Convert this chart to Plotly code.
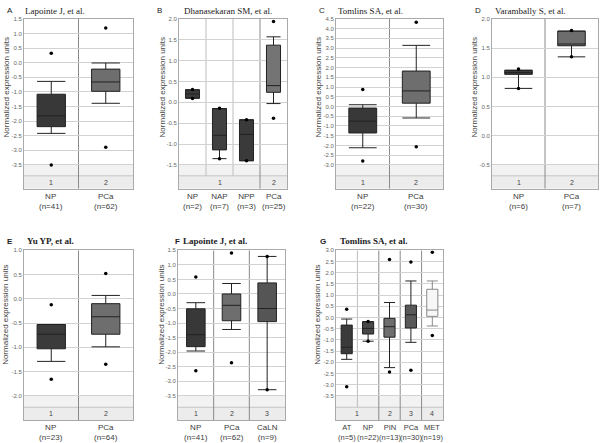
import plotly.graph_objects as go

W, H = 602, 443

# ---------------- data ----------------
A_groups = ["NP", "PCa"]; A_n = [41, 62]; A_set = [1, 2]
A_lower = [-2.42, -1.39]; A_q1 = [-2.19, -0.98]; A_med = [-1.82, -0.66]
A_q3 = [-1.08, -0.22]; A_upper = [-0.64, -0.01]
A_out = [[0.32, -3.50], [1.19, -2.90]]

B_groups = ["NP", "NAP", "NPP", "PCa"]; B_n = [2, 7, 3, 25]; B_set = [1, 1, 1, 2]
B_lower = [0.10, -1.35, -1.40, -0.03]; B_q1 = [0.10, -1.14, -1.40, 0.24]
B_med = [0.20, -0.79, -0.77, 0.40]; B_q3 = [0.30, -0.15, -0.42, 1.37]
B_upper = [0.30, -0.15, -0.42, 1.57]
B_out = [[0.31, 0.09], [-0.14, -1.35], [-0.42, -1.40], [1.94, -0.38]]

C_groups = ["NP", "PCa"]; C_n = [22, 30]; C_set = [1, 2]
C_lower = [-2.12, -0.59]; C_q1 = [-1.36, 0.17]; C_med = [-0.75, 0.80]
C_q3 = [-0.08, 1.82]; C_upper = [0.09, 3.14]
C_out = [[0.87, -2.80], [4.33, -2.07]]

D_groups = ["NP", "PCa"]; D_n = [6, 7]; D_set = [1, 2]
D_lower = [0.81, 1.35]; D_q1 = [1.05, 1.54]; D_med = [1.08, 1.57]
D_q3 = [1.12, 1.79]; D_upper = [1.12, 1.79]
D_out = [[1.14, 0.81], [1.80, 1.35]]

E_groups = ["NP", "PCa"]; E_n = [23, 64]; E_set = [1, 2]
E_lower = [-1.29, -0.99]; E_q1 = [-1.03, -0.73]; E_med = [-0.73, -0.37]
E_q3 = [-0.53, -0.10]; E_upper = [-0.53, 0.07]
E_out = [[-0.12, -1.66], [0.52, -1.35]]

F_groups = ["NP", "PCa", "CaLN"]; F_n = [41, 62, 9]; F_set = [1, 2, 3]
F_lower = [-1.96, -1.22, -3.29]; F_q1 = [-1.81, -0.92, -0.95]
F_med = [-1.40, -0.39, -0.50]; F_q3 = [-0.51, 0.00, 0.38]
F_upper = [-0.30, 0.36, 1.29]
F_out = [[0.58, -2.64], [1.41, -2.36], [1.29, -3.29]]

G_groups = ["AT", "NP", "PIN", "PCa", "MET"]; G_n = [5, 22, 13, 30, 19]; G_set = [1, 1, 2, 3, 4]
G_lower = [-1.87, -1.06, -2.24, -1.11, -0.38]; G_q1 = [-1.62, -0.74, -0.88, -0.47, 0.05]
G_med = [-1.33, -0.49, -0.41, 0.12, 0.33]; G_q3 = [-0.34, -0.19, -0.04, 0.55, 1.26]
G_upper = [-0.07, -0.19, 0.67, 1.63, 1.63]
G_out = [[0.37, -3.10], [-0.18, -1.06], [2.59, -2.44], [2.48, -2.36], [2.91, -0.81]]

letters = ["A", "B", "C", "D", "E", "F", "G"]
titles = ["Lapointe J, et al.", "Dhanasekaran SM, et al.", "Tomlins SA, et al.",
          "Varambally S, et al.", "Yu YP, et al.", "Lapointe J, et al.", "Tomlins SA, et al."]
y_ranges = [(-3.5, 1.5), (-1.5, 2.0), (-3.0, 4.5), (-0.5, 2.0), (-2.0, 1.0), (-3.5, 1.5), (-3.5, 3.0)]

# ---------------- styles / layout (pixels) ----------------
colors = [["#383838", "#6e6e6e"], ["#3a3a3a", "#404040", "#3a3a3a", "#747474"],
          ["#383838", "#6e6e6e"], ["#3c3c3c", "#6d6d6d"], ["#3b3b3b", "#6e6e6e"],
          ["#383838", "#6e6e6e", "#555555"],
          ["#3a3a3a", "#474747", "#6e6e6e", "#595959", "#f7f7f7"]]
xpix = [(24, 133), (179, 287), (336, 443), (492, 598), (24, 133), (178, 285), (336, 443)]
rows = {0: (16, 163, 174, 187), 1: (249, 395.5, 407, 420)}
letter_x = [5, 155, 317, 473, 5, 173, 318]
title_x = [23, 182, 336, 493, 25, 181, 338]
ylab_x = [6, 162, 318, 474, 6, 162, 318]
bold = [False, False, False, False, True, True, True]
label_size = [8, 8, 8, 8, 8, 8, 7.5]

data = [
    (A_groups, A_n, A_set, A_lower, A_q1, A_med, A_q3, A_upper, A_out),
    (B_groups, B_n, B_set, B_lower, B_q1, B_med, B_q3, B_upper, B_out),
    (C_groups, C_n, C_set, C_lower, C_q1, C_med, C_q3, C_upper, C_out),
    (D_groups, D_n, D_set, D_lower, D_q1, D_med, D_q3, D_upper, D_out),
    (E_groups, E_n, E_set, E_lower, E_q1, E_med, E_q3, E_upper, E_out),
    (F_groups, F_n, F_set, F_lower, F_q1, F_med, F_q3, F_upper, F_out),
    (G_groups, G_n, G_set, G_lower, G_q1, G_med, G_q3, G_upper, G_out),
]

fig = go.Figure()
shapes = []
annots = []
layout = {}

def py(p):
    return 1 - p / H

def px(p):
    return p / W

for k, (groups, ns, sets, lo, q1, med, q3, up, outs) in enumerate(data):
    r = 0 if k < 4 else 1
    t_top, t_bot, b_bot, r_bot = rows[r]
    ymin, ymax = y_ranges[k]
    ppu = (t_bot - t_top) / (ymax - ymin)
    band_val = ymin - (b_bot - t_bot) / ppu
    rng_bot = ymin - (r_bot - t_bot) / ppu
    sfx = "" if k == 0 else str(k + 1)
    xa, ya = "x" + sfx, "y" + sfx
    nb = len(groups)

    ticks = []
    v = ymin
    while v <= ymax + 1e-9:
        ticks.append(round(v, 2))
        v += 0.5

    layout["xaxis" + sfx] = dict(domain=[px(xpix[k][0]), px(xpix[k][1])], anchor=ya,
                                 range=[-0.5, nb - 0.5], showticklabels=False, showgrid=False,
                                 zeroline=False, showline=True, mirror=True, linecolor="#aaaaaa",
                                 linewidth=1, ticks="", fixedrange=True)
    layout["yaxis" + sfx] = dict(domain=[py(r_bot), py(t_top)], anchor=xa,
                                 range=[rng_bot, ymax], tickvals=ticks,
                                 ticktext=["%.1f" % t for t in ticks],
                                 tickfont=dict(size=6, color="#666666", family="Arial"),
                                 showgrid=True, gridcolor="#d2d2d2", gridwidth=1,
                                 zeroline=False, showline=True, mirror=True, linecolor="#aaaaaa",
                                 linewidth=1, ticks="", fixedrange=True)

    # band and number row
    shapes.append(dict(type="rect", xref=xa, yref=ya, x0=-0.5, x1=nb - 0.5, y0=band_val, y1=ymin,
                       fillcolor="#f2f2f2", line=dict(width=0), layer="below"))
    shapes.append(dict(type="rect", xref=xa, yref=ya, x0=-0.5, x1=nb - 0.5, y0=rng_bot, y1=band_val,
                       fillcolor="#ececec", line=dict(width=0), layer="below"))
    shapes.append(dict(type="line", xref=xa, yref=ya, x0=-0.5, x1=nb - 0.5, y0=band_val, y1=band_val,
                       line=dict(color="#c4c4c4", width=1), layer="below"))
    # dividers
    for i in range(nb - 1):
        if sets[i] != sets[i + 1]:
            shapes.append(dict(type="line", xref=xa, yref=ya, x0=i + 0.5, x1=i + 0.5, y0=rng_bot,
                               y1=ymax, line=dict(color="#8a8a8a", width=1), layer="below"))
        else:
            shapes.append(dict(type="line", xref=xa, yref=ya, x0=i + 0.5, x1=i + 0.5, y0=band_val,
                               y1=ymax, line=dict(color="#bdbdbd", width=1), layer="below"))
    # set numbers
    for s in sorted(set(sets)):
        idx = [i for i in range(nb) if sets[i] == s]
        annots.append(dict(xref=xa, yref=ya, x=sum(idx) / len(idx), y=(rng_bot + band_val) / 2,
                           text=str(s), showarrow=False,
                           font=dict(size=7, color="#444444", family="Arial")))
    # category labels
    for i in range(nb):
        annots.append(dict(xref=xa, yref="paper", x=i, y=py(r_bot + 1), yanchor="top",
                           text="%s<br>(n=%d)" % (groups[i], ns[i]), showarrow=False,
                           font=dict(size=label_size[k], color="#3c3c3c", family="Arial")))
    # boxes
    for i in range(nb):
        lc = "#888888" if colors[k][i] == "#f7f7f7" else "#222222"
        fig.add_trace(go.Box(x=[i], q1=[q1[i]], median=[med[i]], q3=[q3[i]],
                             lowerfence=[lo[i]], upperfence=[up[i]], width=0.52,
                             whiskerwidth=1, fillcolor=colors[k][i],
                             line=dict(color=lc, width=1), boxpoints=False,
                             xaxis=xa, yaxis=ya, showlegend=False, hoverinfo="skip"))
        fig.add_trace(go.Scatter(x=[i] * len(outs[i]), y=outs[i], mode="markers",
                                 marker=dict(size=3.5, color="#000000"),
                                 xaxis=xa, yaxis=ya, showlegend=False, hoverinfo="skip"))

    # titles
    ty = 8 if r == 0 else 240
    annots.append(dict(xref="paper", yref="paper", x=px(letter_x[k]), y=py(ty), xanchor="left",
                       yanchor="middle", text=("<b>%s</b>" if bold[k] else "%s") % letters[k],
                       showarrow=False, font=dict(size=8, color="#222222", family="Arial")))
    annots.append(dict(xref="paper", yref="paper", x=px(title_x[k]), y=py(ty), xanchor="left",
                       yanchor="middle", text=("<b>%s</b>" if bold[k] else "%s") % titles[k],
                       showarrow=False,
                       font=dict(size=9, color="#222222", family="Liberation Serif")))
    # y-axis title
    yc = 85 if r == 0 else 314
    annots.append(dict(xref="paper", yref="paper", x=px(ylab_x[k]), y=py(yc), xanchor="center",
                       yanchor="middle", textangle=-90, text="Normalized expression units",
                       showarrow=False, font=dict(size=8, color="#444444", family="Arial")))

fig.update_layout(width=W, height=H, margin=dict(l=0, r=0, t=0, b=0),
                  paper_bgcolor="white", plot_bgcolor="white", boxmode="overlay",
                  shapes=shapes, annotations=annots, **layout)

fig.write_html("out.html", config={"displayModeBar": False},
               post_script="document.body.style.margin='0';document.body.style.padding='0';")
